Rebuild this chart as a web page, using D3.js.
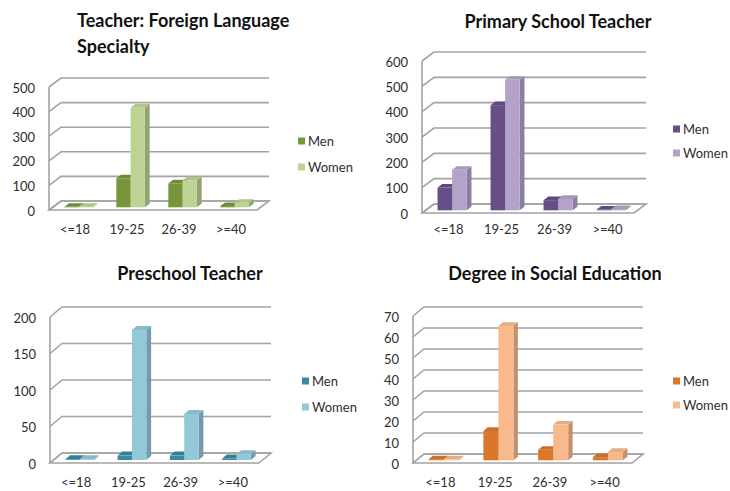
<!DOCTYPE html>
<html>
<head>
<meta charset="utf-8">
<script src="https://cdn.jsdelivr.net/npm/d3@7"></script>
<style>
  body { margin: 0; background: #fff; }
  svg { display: block; font-family: Lato, "Open Sans", sans-serif; }
</style>
</head>
<body>
<svg width="730" height="491"></svg>
<script>
// data
const categories = ["<=18", "19-25", "26-39", ">=40"];
const seriesNames = ["Men", "Women"];

const foreignMen = [2, 118, 97, 5];
const foreignWomen = [2, 405, 110, 18];
const primaryMen = [90, 415, 40, 3];
const primaryWomen = [160, 515, 45, 5];
const preschoolMen = [1, 6, 6, 2];
const preschoolWomen = [1, 178, 63, 8];
const socialMen = [0.5, 14, 5, 1.5];
const socialWomen = [0.5, 64, 17, 4];

const foreignTicks = [0, 100, 200, 300, 400, 500];
const primaryTicks = [0, 100, 200, 300, 400, 500, 600];
const preschoolTicks = [0, 50, 100, 150, 200];
const socialTicks = [0, 10, 20, 30, 40, 50, 60, 70];

// layout of each panel (front plane of the 3D box + depth)
const panels = [
  { title: ["Teacher: Foreign Language", "Specialty"], anchor: "start", tx: 77, ty: 27,
    men: foreignMen, women: foreignWomen, ticks: foreignTicks,
    x0: 49, x1: 257, yBase: 210, yTop: 87, dx: 12, dy: -9,
    legX: 298, legY: [141, 167], catY: 234,
    colors: ["#77963b", "#bdd293"] },
  { title: ["Primary School Teacher"], anchor: "middle", tx: 558, ty: 28,
    men: primaryMen, women: primaryWomen, ticks: primaryTicks,
    x0: 422, x1: 634, yBase: 213, yTop: 61, dx: 12, dy: -9,
    legX: 673, legY: [129, 153], catY: 234,
    colors: ["#684e86", "#b3a3c9"] },
  { title: ["Preschool Teacher"], anchor: "middle", tx: 190, ty: 280,
    men: preschoolMen, women: preschoolWomen, ticks: preschoolTicks,
    x0: 50, x1: 259, yBase: 463, yTop: 317, dx: 12, dy: -10,
    legX: 302, legY: [381, 407], catY: 487,
    colors: ["#368ba3", "#93c8d8"] },
  { title: ["Degree in Social Education"], anchor: "middle", tx: 555, ty: 280,
    men: socialMen, women: socialWomen, ticks: socialTicks,
    x0: 413, x1: 632, yBase: 463, yTop: 316, dx: 11, dy: -9,
    legX: 673, legY: [381, 405], catY: 487,
    colors: ["#da772b", "#f8b98c"] }
];

const GRID = "#a3a3a3";
const TEXT = "#2e2e2e";
const T0 = 0.3, T1 = 0.7;   // bar depth inside the box

const svg = d3.select("svg");

panels.forEach(p => drawPanel(p));

function drawPanel(p) {
  const g = svg.append("g");
  const maxV = p.ticks[p.ticks.length - 1];

  const x = d3.scaleBand().domain(categories).range([p.x0, p.x1]);
  const xs = d3.scaleBand().domain(seriesNames).range([0, x.bandwidth()]).paddingOuter(0.82);
  const y = d3.scaleLinear().domain([0, maxV]).range([p.yBase, p.yTop]);

  // title
  g.selectAll(".title").data(p.title).join("text")
    .attr("x", p.tx)
    .attr("y", (d, i) => p.ty + i * 26)
    .attr("text-anchor", p.anchor)
    .attr("font-size", 18)
    .attr("font-weight", "bold")
    .attr("fill", "#111")
    .text(d => d);

  // floor
  g.append("path")
    .attr("d", d3.line()([[p.x0, y(0)], [p.x1, y(0)], [p.x1 + p.dx, y(0) + p.dy], [p.x0 + p.dx, y(0) + p.dy]]) + "Z")
    .attr("fill", "#fff")
    .attr("stroke", GRID)
    .attr("stroke-width", 1.6);

  // wall + gridlines
  g.append("line")
    .attr("x1", p.x0).attr("x2", p.x0)
    .attr("y1", y(0)).attr("y2", y(maxV))
    .attr("stroke", GRID).attr("stroke-width", 1.6);

  p.ticks.forEach(t => {
    g.append("path")
      .attr("d", d3.line()([[p.x0, y(t)], [p.x0 + p.dx, y(t) + p.dy], [p.x1 + p.dx, y(t) + p.dy]]))
      .attr("fill", "none")
      .attr("stroke", GRID)
      .attr("stroke-width", 1.6);
    g.append("text")
      .attr("x", p.x0 - 14)
      .attr("y", y(t) + 1)
      .attr("dy", "0.35em")
      .attr("text-anchor", "end")
      .attr("font-size", 13)
      .attr("fill", TEXT)
      .text(t);
  });

  // bars
  const off0x = T0 * p.dx, off0y = T0 * p.dy;
  const ddx = (T1 - T0) * p.dx, ddy = (T1 - T0) * p.dy;
  const bw = xs.bandwidth();

  categories.forEach((c, ci) => {
    [p.men[ci], p.women[ci]].forEach((v, si) => {
      const col = d3.color(p.colors[si]);
      const bx = x(c) + xs(seriesNames[si]) + off0x;
      const by0 = y(0) + off0y;
      const by1 = y(v) + off0y;
      // side
      g.append("path")
        .attr("d", d3.line()([[bx + bw, by0], [bx + bw + ddx, by0 + ddy], [bx + bw + ddx, by1 + ddy], [bx + bw, by1]]) + "Z")
        .attr("fill", col.darker(0.7));
      // top
      g.append("path")
        .attr("d", d3.line()([[bx, by1], [bx + bw, by1], [bx + bw + ddx, by1 + ddy], [bx + ddx, by1 + ddy]]) + "Z")
        .attr("fill", col.darker(0.2));
      // front
      g.append("rect")
        .attr("x", bx)
        .attr("y", by1)
        .attr("width", bw)
        .attr("height", by0 - by1)
        .attr("fill", col);
    });
  });

  // category labels
  g.selectAll(".cat").data(categories).join("text")
    .attr("x", d => x(d) + x.bandwidth() / 2)
    .attr("y", p.catY)
    .attr("text-anchor", "middle")
    .attr("font-size", 13)
    .attr("fill", TEXT)
    .text(d => d);

  // legend
  seriesNames.forEach((s, i) => {
    g.append("rect")
      .attr("x", p.legX)
      .attr("y", p.legY[i] - 3.5)
      .attr("width", 7)
      .attr("height", 7)
      .attr("fill", p.colors[i]);
    g.append("text")
      .attr("x", p.legX + 10)
      .attr("y", p.legY[i])
      .attr("dy", "0.35em")
      .attr("font-size", 13)
      .attr("fill", TEXT)
      .text(s);
  });
}
</script>
</body>
</html>
